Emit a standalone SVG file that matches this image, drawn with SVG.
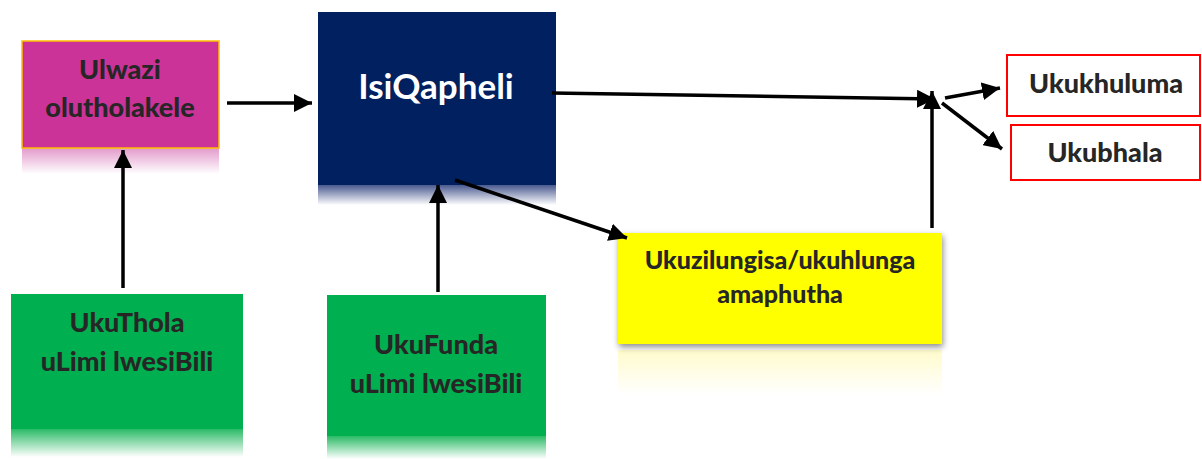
<svg xmlns="http://www.w3.org/2000/svg" width="1202" height="459" viewBox="0 0 1202 459">
<style>
.t{font-family:Lato,"Liberation Sans",sans-serif;font-weight:900;fill:#262626;text-anchor:middle}
.w{fill:#ffffff;font-weight:bold}
.ln{stroke:#000;stroke-width:3.5;fill:none;marker-end:url(#ah)}
</style>
<defs>
<marker id="ah" markerUnits="userSpaceOnUse" markerWidth="18" markerHeight="18" refX="16" refY="8" orient="auto" viewBox="0 0 16 16">
<path d="M0,0 L16,8 L0,16 Z" fill="#000"/>
</marker>
<linearGradient id="rm" x1="0" y1="0" x2="0" y2="1"><stop offset="0" stop-color="#e39acb"/><stop offset="1" stop-color="#ffffff"/></linearGradient>
<linearGradient id="rn" x1="0" y1="0" x2="0" y2="1"><stop offset="0" stop-color="#4a5a90"/><stop offset="1" stop-color="#ffffff"/></linearGradient>
<linearGradient id="rg" x1="0" y1="0" x2="0" y2="1"><stop offset="0" stop-color="#2bbb66"/><stop offset="1" stop-color="#ffffff"/></linearGradient>
<linearGradient id="ry" x1="0" y1="0" x2="0" y2="1"><stop offset="0" stop-color="#fffbcc"/><stop offset="1" stop-color="#ffffff"/></linearGradient>
<filter id="sh" x="-10%" y="-10%" width="120%" height="130%"><feDropShadow dx="1" dy="3" stdDeviation="3" flood-color="#000" flood-opacity="0.45"/></filter>
</defs>
<rect width="1202" height="459" fill="#fff"/>
<g id="ulwazi">
<rect x="22" y="148" width="197" height="26" fill="url(#rm)"/>
<rect x="22" y="41" width="197" height="107" fill="#cc3399" stroke="#ffc000" stroke-width="1.5"/>
<text class="t" x="120" y="79" font-size="27">Ulwazi</text>
<text class="t" x="120" y="117" font-size="27">olutholakele</text>
</g>
<g id="isiqapheli">
<rect x="318" y="185" width="238" height="20" fill="url(#rn)"/>
<rect x="318" y="12" width="238" height="173" fill="#002060"/>
<text class="t w" x="436" y="99" font-size="35">IsiQapheli</text>
</g>
<g id="ukuthola">
<rect x="11" y="429" width="232" height="28" fill="url(#rg)"/>
<rect x="11" y="294" width="232" height="135" fill="#00b050"/>
<text class="t" x="127" y="332" font-size="27">UkuThola</text>
<text class="t" x="127" y="371" font-size="27">uLimi lwesiBili</text>
</g>
<g id="ukufunda">
<rect x="327" y="436" width="219" height="23" fill="url(#rg)"/>
<rect x="327" y="295" width="219" height="141" fill="#00b050"/>
<text class="t" x="436" y="354" font-size="27">UkuFunda</text>
<text class="t" x="436" y="393" font-size="27">uLimi lwesiBili</text>
</g>
<g id="ukuzilungisa">
<rect x="618" y="350" width="324" height="45" fill="url(#ry)"/>
<rect x="618" y="233" width="324" height="111" fill="#ffff00" filter="url(#sh)"/>
<text class="t" x="780" y="269" font-size="25">Ukuzilungisa/ukuhlunga</text>
<text class="t" x="780" y="303" font-size="25">amaphutha</text>
</g>
<g id="ukukhuluma">
<rect x="1007" y="55" width="193" height="61" fill="#fff" stroke="#ff0000" stroke-width="2"/>
<text class="t" x="1106" y="93" font-size="27">Ukukhuluma</text>
</g>
<g id="ukubhala">
<rect x="1011" y="125" width="189" height="55" fill="#fff" stroke="#ff0000" stroke-width="2"/>
<text class="t" x="1105" y="162" font-size="27">Ukubhala</text>
</g>
<g id="connectors">
<line class="ln" x1="227" y1="103" x2="312" y2="103"/>
<line class="ln" x1="123" y1="288" x2="123" y2="150"/>
<line class="ln" x1="438" y1="292" x2="438" y2="185"/>
<line class="ln" x1="455" y1="180" x2="627" y2="238"/>
<line class="ln" x1="552" y1="93" x2="935" y2="99"/>
<line class="ln" x1="932" y1="228" x2="932" y2="91"/>
<line class="ln" x1="945" y1="98" x2="1000" y2="88"/>
<line class="ln" x1="942" y1="103" x2="1002" y2="149"/>
</g>
</svg>
